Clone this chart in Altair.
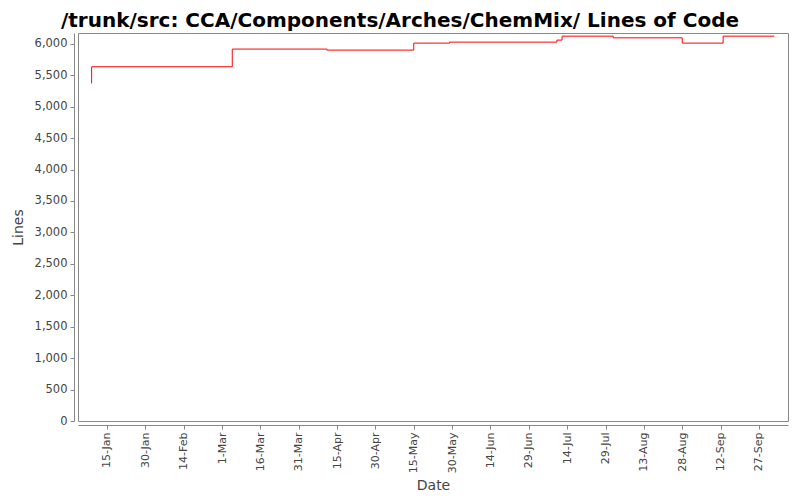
import altair as alt
import pandas as pd

# Step data: commit dates and lines-of-code values
dates = [
    "2007-01-09T00:00", "2007-01-09T00:00", "2007-03-05T00:00", "2007-04-11T00:00",
    "2007-05-15T00:00", "2007-05-29T00:00", "2007-07-10T00:00", "2007-07-12T00:00",
    "2007-08-01T00:00", "2007-08-28T00:00", "2007-09-13T00:00", "2007-10-03T00:00",
]
lines = [5370, 5635, 5916, 5900, 6011, 6027, 6059, 6122, 6095, 6011, 6122, 6122]
order = list(range(len(dates)))

tick_dates = [
    (1, 15), (1, 30), (2, 14), (3, 1), (3, 16), (3, 31), (4, 15), (4, 30),
    (5, 15), (5, 30), (6, 14), (6, 29), (7, 14), (7, 29), (8, 13), (8, 28),
    (9, 12), (9, 27),
]
y_ticks = list(range(0, 6001, 500))

df = pd.DataFrame({"Date": dates, "Lines": lines, "order": order})

x_domain = [
    alt.DateTime(year=2007, month=1, date=3, hours=16),
    alt.DateTime(year=2007, month=10, date=8, hours=9),
]
x_values = [alt.DateTime(year=2007, month=m, date=d) for m, d in tick_dates]

font = "DejaVu Sans"

chart = (
    alt.Chart(df)
    .mark_line(interpolate="step-after", color="#ff0000", strokeWidth=1)
    .encode(
        x=alt.X(
            "Date:T",
            scale=alt.Scale(domain=x_domain, nice=False),
            axis=alt.Axis(
                title="Date",
                values=x_values,
                format="%-d-%b",
                labelAngle=270,
                labelAlign="right",
                labelBaseline="middle",
                labelPadding=3,
                labelFontSize=11,
                labelColor="#444444",
                labelFont=font,
                tickSize=4,
                tickColor="#888888",
                domainColor="#888888",
                offset=4,
                grid=False,
                titleFont=font,
                titleFontSize=14,
                titleFontWeight="normal",
                titleColor="#444444",
                titlePadding=6,
                labelOverlap=False,
            ),
        ),
        y=alt.Y(
            "Lines:Q",
            scale=alt.Scale(domain=[0, 6172], nice=False, zero=True),
            axis=alt.Axis(
                title="Lines",
                values=y_ticks,
                format=",d",
                labelFontSize=11.5,
                labelColor="#444444",
                labelFont=font,
                labelPadding=3,
                tickSize=4,
                tickColor="#888888",
                domainColor="#888888",
                offset=4,
                grid=False,
                titleFont=font,
                titleFontSize=14,
                titleFontWeight="normal",
                titleColor="#444444",
                titlePadding=9,
            ),
        ),
        order="order:Q",
    )
    .properties(
        width=710,
        height=388,
        title=alt.TitleParams(
            text="/trunk/src: CCA/Components/Arches/ChemMix/ Lines of Code",
            font=font,
            fontSize=20,
            fontWeight="bold",
            color="#000000",
            anchor="middle",
            dx=-33,
            offset=2,
        ),
        autosize=alt.AutoSizeParams(type="none"),
        padding={"left": 70, "top": 25, "right": 4, "bottom": 71},
        background="#ffffff",
    )
    .configure_view(stroke="#888888", strokeWidth=1, fill="#ffffff")
)

chart.save("out.html", embed_options={"renderer": "svg", "actions": False})
